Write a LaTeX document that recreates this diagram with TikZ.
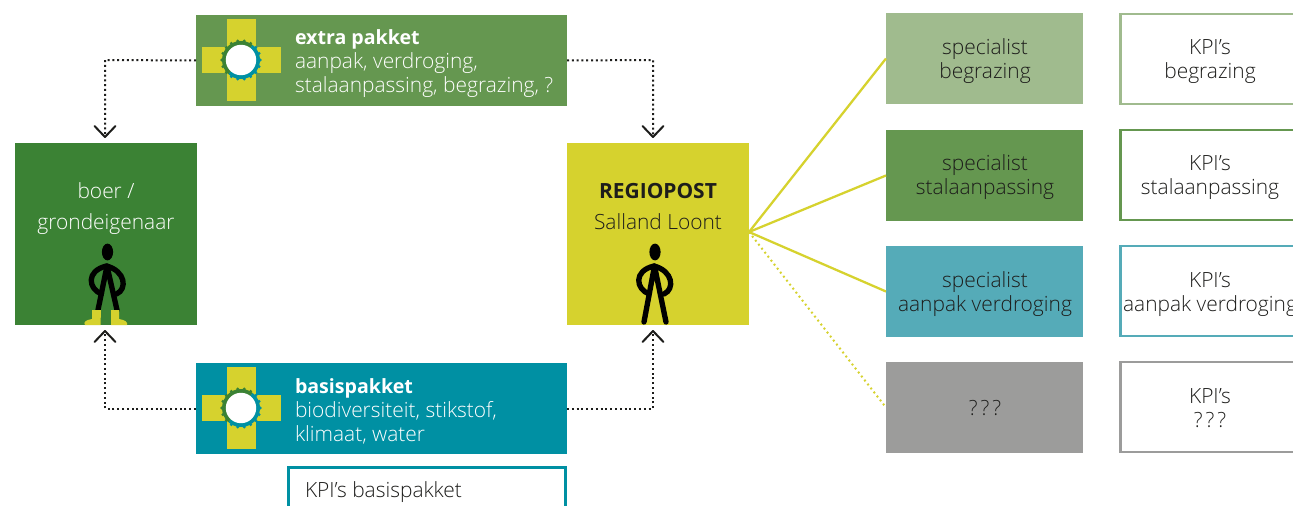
\documentclass[tikz,border=0pt]{standalone}
\usepackage{fontspec}
\setmainfont{Open Sans}[UprightFont=* Light,BoldFont=* Bold]
\usetikzlibrary{arrows.meta}
\definecolor{dgreen}{HTML}{3B8234}
\definecolor{yel}{HTML}{D6D22E}
\definecolor{xgreen}{HTML}{659750}
\definecolor{teal2}{HTML}{0090A3}
\definecolor{lgreen}{HTML}{A0BB8E}
\definecolor{lteal}{HTML}{55ABB8}
\definecolor{gry}{HTML}{9C9C9B}
\definecolor{ink}{HTML}{1D1D1B}
\tikzset{
 x=0.75pt,y=-0.75pt,
 every node/.style={font=\fontsize{15.7}{18}\selectfont,text=ink,align=center,inner sep=0pt,outer sep=0pt},
 big/.style={minimum width=182*0.75pt,minimum height=182*0.75pt,anchor=north west},
 pack/.style={minimum width=371*0.75pt,minimum height=91*0.75pt,anchor=north west},
 spec/.style={minimum width=197*0.75pt,minimum height=91*0.75pt,anchor=north west,text=ink},
 kpi/.style={draw=#1,line width=1.8pt,fill=white,minimum width=190*0.75pt,minimum height=90*0.75pt,anchor=north west},
 txt/.style={anchor=base},
 ltxt/.style={anchor=base west,text=white},
 boldtxt/.style={anchor=base west,text=white,font=\fontsize{14.7}{18}\selectfont\bfseries},
 dotline/.style={line width=1.5pt,dash pattern=on 1.5pt off 2.1pt,ink},
 spoke/.style={yel,line width=1.7pt},
 bodyline/.style={black,line width=4pt,line cap=round,line join=round},
}
\newcommand{\badge}[2]{%
 \fill[yel] (202,#2-13) rectangle (281,#2+13);
 \fill[yel] (227,#2-41) rectangle (256,#2+41);
 \begin{scope}
  \clip (180,#2-30) -- (265,#2-30) -- (222,#2+22) -- (180,#2+22) -- cycle;
  \foreach \a in {0,20,...,340}{\fill[dgreen] (241,#2) ++(\a:19.2) circle[radius=1.7];}
  \fill[dgreen] (241,#2) circle[radius=19];
 \end{scope}
 \begin{scope}
  \clip (300,#2+30) -- (220,#2+30) -- (222,#2+22) -- (265,#2-30) -- (300,#2-30) -- cycle;
  \foreach \a in {0,20,...,340}{\fill[teal2] (241,#2) ++(\a:19.2) circle[radius=1.7];}
  \fill[teal2] (241,#2) circle[radius=19];
 \end{scope}
 \fill[white] (241,#2) circle[radius=15.2];
}
\newcommand{\persona}[3]{% cx, footdx, footy
 \fill[black] (#1,252) ellipse[x radius=5.6,y radius=8.4];
 \draw[bodyline] (#1-#2,#3) -- (#1-0.5,266) -- (#1+#2,#3);
 \draw[bodyline] (#1-6,294) .. controls (#1-19,289) and (#1-22,271) .. (#1-1,266)
   .. controls (#1+18,271) and (#1+20,289) .. (#1+9,294);
}
\begin{document}
\begin{tikzpicture}
\useasboundingbox (0,0) rectangle (1293,506);
\fill[white] (0,0) rectangle (1293,506);
% main boxes
\node[big,fill=dgreen] (boer) at (15,143) {};
\node[big,fill=yel] (regio) at (567,143) {};
\node[pack,fill=xgreen] (extra) at (196,15) {};
\node[pack,fill=teal2] (basis) at (196,363) {};
% specialists
\node[spec,fill=lgreen] (s1) at (886,13) {};
\node[spec,fill=xgreen] (s2) at (886,130) {};
\node[spec,fill=lteal] (s3) at (886,246) {};
\node[spec,fill=gry] (s4) at (886,362) {};
% KPI boxes
\node[kpi=lgreen] (k1) at (1120.5,14) {};
\node[kpi=xgreen] (k2) at (1120.5,130) {};
\node[kpi=lteal] (k3) at (1120.5,246) {};
\node[kpi=gry] (k4) at (1120.5,362) {};
\node[draw=teal2,line width=1.8pt,minimum width=277*0.75pt,minimum height=60*0.75pt,anchor=north west] (k5) at (288.5,467.5) {};
% connectors
\coordinate (tb1) at (105,137);
\coordinate (tb2) at (653,137);
\coordinate (tb3) at (105,331);
\coordinate (tb4) at (653,331);
\draw[dotline] (extra.west) -- (105,60) -- (tb1);
\draw[dotline] (extra.east) -- (653,60) -- (tb2);
\draw[dotline] (basis.west) -- (105,408.5) -- (tb3);
\draw[dotline] (basis.east) -- (653,408.5) -- (tb4);
\foreach \c/\d in {tb1/1,tb2/1,tb3/-1,tb4/-1}{
 \draw[ink,line width=1.5pt,line cap=round,line join=round] (\c) ++(-10.5,-11*\d) -- ++(10.5,11*\d) -- ++(10.5,-11*\d);
}
\coordinate (hub) at (749,232);
\draw[spoke] (hub) -- (s1.west);
\draw[spoke] (hub) -- (s2.west);
\draw[spoke] (hub) -- (s3.west);
\draw[spoke,line width=1.5pt,dash pattern=on 1.4pt off 2.4pt] (hub) -- (s4.west);
% badges
\badge{241}{60}
\badge{241}{408}
% people
\persona{107.5}{9.5}{310}
\fill[yel] (92,310) -- (101,310) -- (100.5,325) -- (85,325) .. controls (83,322) and (86,320) .. (92,319) -- cycle;
\fill[yel] (111,310) -- (119,310) -- (119,319) .. controls (125,320) and (128,322) .. (127,325) -- (111,325) -- cycle;
\persona{655}{11}{322}
% labels
\node[txt,text=white] (t1) at (106,199) {boer /};
\node[txt,text=white] (t2) at (106,229) {grondeigenaar};
\node[txt] (t3) at (658,199) {\textbf{REGIOPOST}};
\node[txt] (t4) at (658,229) {Salland Loont};
\node[boldtxt] (e1) at (295,45) {extra pakket};
\node[ltxt] (e2) at (295,69) {aanpak, verdroging,};
\node[ltxt] (e3) at (295,93) {stalaanpassing, begrazing, ?};
\node[boldtxt] (b1) at (295,393) {basispakket};
\node[ltxt] (b2) at (295,417) {biodiversiteit, stikstof,};
\node[ltxt] (b3) at (295,441) {klimaat, water};
\node[anchor=base west] (k5t) at (305,497) {KPI’s basispakket};
\foreach \y/\a/\b/\n in {55/specialist/begrazing/a,171/specialist/stalaanpassing/b,287/specialist/aanpak verdroging/c}{
 \node[txt] (sp\n1) at (985,\y) {\a};
 \node[txt] (sp\n2) at (985,\y+24) {\b};
}
\node[txt] (sd) at (985,415) {?\hspace{2.2pt}?\hspace{2.2pt}?};
\foreach \y/\b/\n in {55/begrazing/a,171/stalaanpassing/b,287/aanpak verdroging/c,403/?\hspace{2.2pt}?\hspace{2.2pt}?/d}{
 \node[txt] (kp\n1) at (1210,\y) {KPI’s};
 \node[txt] (kp\n2) at (1210,\y+24) {\b};
}
\end{tikzpicture}
\end{document}
